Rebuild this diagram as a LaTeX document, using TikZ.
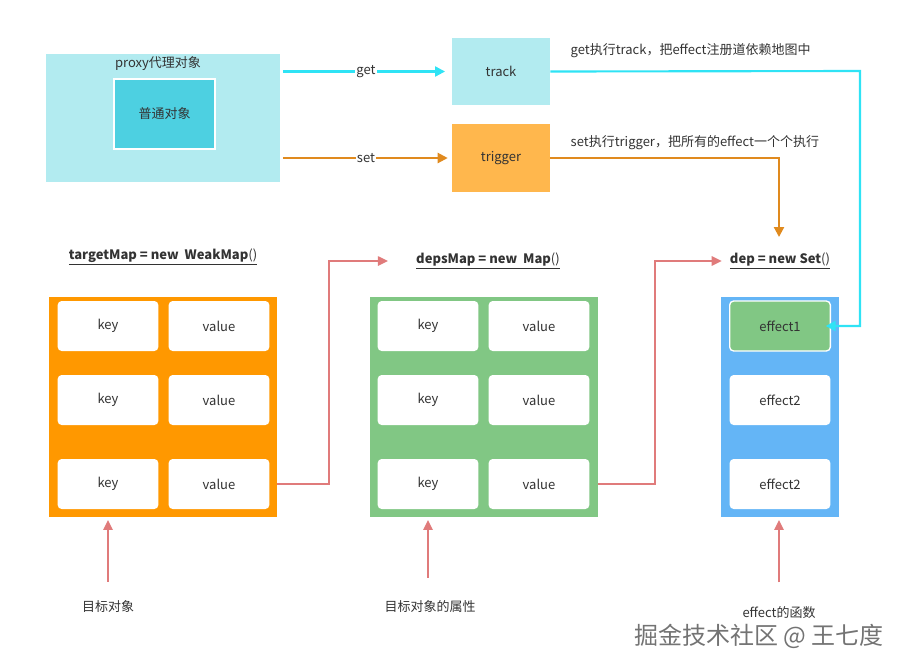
\documentclass[tikz,border=0pt]{standalone}
\usepackage{fontspec}
\setmainfont{Noto Sans CJK SC}
\usetikzlibrary{arrows.meta}
\definecolor{txt}{HTML}{333333}
\definecolor{proxyc}{HTML}{B2EBF0}
\definecolor{plainc}{HTML}{4DD0E1}
\definecolor{trigc}{HTML}{FFB74D}
\definecolor{getc}{HTML}{2FE3F5}
\definecolor{setc}{HTML}{E08A1E}
\definecolor{linkc}{HTML}{E07B7B}
\definecolor{orangec}{HTML}{FF9800}
\definecolor{greenc}{HTML}{81C784}
\definecolor{bluec}{HTML}{64B5F6}

\begin{document}
\begin{tikzpicture}[x=0.75pt, y=-0.75pt,
                    font=\fontsize{9.75pt}{11pt}\selectfont, text=txt,
                    box/.style={shape=rectangle, inner sep=0, draw=none},
                    cell/.style={box, fill=white, rounded corners=3pt,
                                 minimum width=75.5pt, minimum height=37.5pt},
                    holder/.style={box, minimum width=171pt, minimum height=165pt},
                    title/.style={inner sep=1pt, font=\fontsize{9.75pt}{11pt}\selectfont\bfseries},
                    getline/.style={draw=getc, line width=1.6pt, -{Triangle[length=7.5pt,width=7.5pt]}},
                    setline/.style={draw=setc, line width=1.6pt, -{Triangle[length=7.5pt,width=7.5pt]}},
                    link/.style={draw=linkc, line width=1.2pt, -{Triangle[length=7.5pt,width=7pt]}}]

\useasboundingbox (0,0) rectangle (910,669);

% top row
\node[box, fill=proxyc, minimum width=175.5pt, minimum height=96pt] (prx) at (163,118) {};
\node at (158,64) {proxy代理对象};
\node[box, fill=plainc, draw=white, line width=1pt, minimum width=75.75pt, minimum height=52.5pt] (plain) at (164.5,114) {普通对象};
\node[box, fill=proxyc, minimum width=73.5pt, minimum height=50pt] (trk) at (501,71.5) {track};
\node[box, fill=trigc, minimum width=73.5pt, minimum height=51pt] (trg) at (501,158) {trigger};

% the three maps
\node[holder, fill=orangec] (tm) at (163,407) {};
\node[holder, fill=greenc] (dm) at (484,407) {};
\node[holder, fill=bluec, minimum width=88.5pt] (ds) at (780,407) {};

\foreach \i/\y in {1/326,2/400,3/484}{%
    \node[cell] (tk\i) at (108,\y) {key};
    \node[cell] (tv\i) at (219,\y) {value};
    \node[cell] (dk\i) at (428,\y) {key};
    \node[cell] (dv\i) at (539,\y) {value};}
\node[cell, fill=greenc, draw=white, line width=1pt] (e1) at (780,326) {effect1};
\node[cell] (e2) at (780,400) {effect2};
\node[cell] (e3) at (780,484) {effect2};

\node[title] (tlbl) at (163,257) {\underline{targetMap = new\ \ WeakMap}\mdseries\underline{()}};
\node[title] (dlbl) at (488,261) {\underline{depsMap = new\ \ Map}\mdseries\underline{()}};
\node[title] (slbl) at (780,261) {\underline{dep = new Set}\mdseries\underline{()}};

% notes
\node[anchor=west] (gnote) at (566,51) {get执行track，把effect注册道依赖地图中};
\node[anchor=west] (snote) at (566,143) {set执行trigger，把所有的effect一个个执行};
\node (n1) at (108,607) {目标对象};
\node (n2) at (430,607) {目标对象的属性};
\node (n3) at (779,613) {effect的函数};
\node[font=\fontsize{18pt}{20pt}\selectfont, text=gray!90!black] (wm) at (759,636) {掘金技术社区 @ 王七度};

% connectors
\coordinate (c1) at (860,71);
\coordinate (c2) at (779,237);
\draw[getline, shorten <=2pt, shorten >=5pt] (trk.west -| prx.east) -- node[fill=white, inner sep=1pt] {get} (trk.west);
\draw[setline, shorten <=2pt, shorten >=3pt] (trg.west -| prx.east) -- node[fill=white, inner sep=1pt] {set} (trg.west);
\draw[getline, shorten >=-4pt] (trk.east) -- (c1) |- (e1.east);
\draw[setline] (trg.east) -| (c2);
\draw[link, shorten >=20pt] (tm.east |- tv3) -- ++(52,0) |- (dlbl.west);
\draw[link, shorten >=5pt] (dm.east |- dv3) -- ++(57,0) |- (slbl.west);
\draw[link, shorten <=11pt, shorten >=2pt] (n1.north) -- (tm.south -| n1);
\draw[link, shorten <=14pt, shorten >=2pt] (n2.north -| dk3) -- (dm.south -| dk3);
\draw[link, shorten <=15pt, shorten >=2pt] (n3.north) -- (ds.south -| n3);
\end{tikzpicture}
\end{document}
